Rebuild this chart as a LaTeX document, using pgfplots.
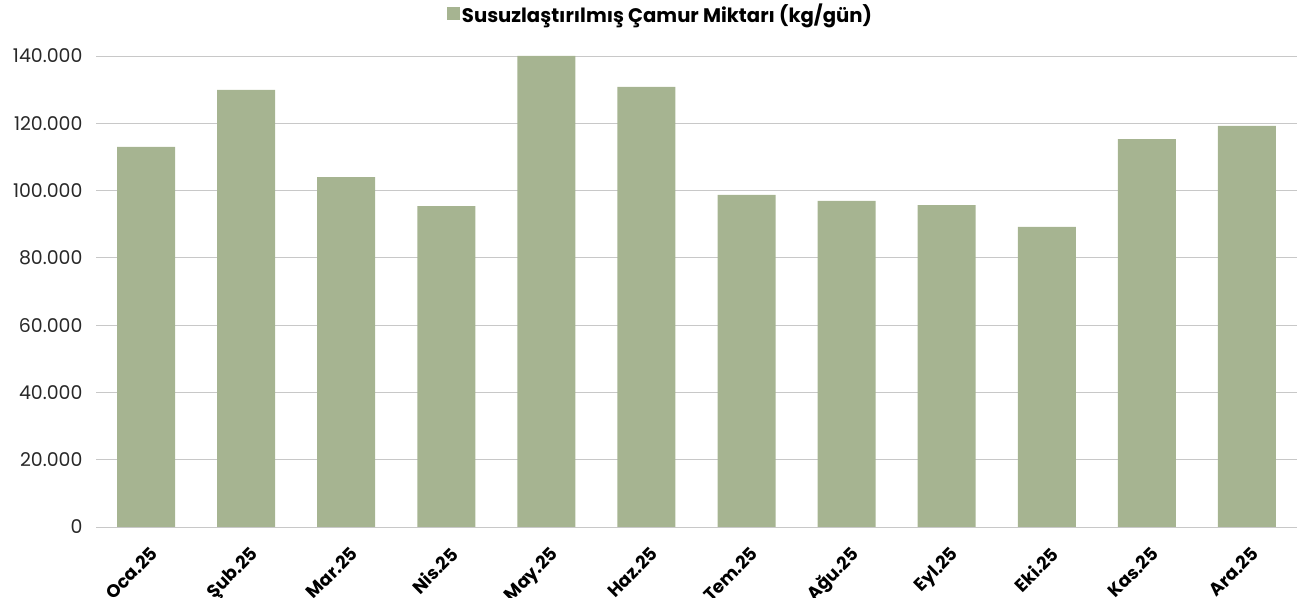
\documentclass[border=0pt]{standalone}
\usepackage{pgfplots}
\pgfplotsset{compat=1.18}
\usepackage{fontspec}
\setmainfont{Poppins}
\definecolor{barc}{RGB}{166,180,145}
\definecolor{gridc}{RGB}{200,200,200}
\definecolor{txt}{RGB}{40,40,40}
\begin{document}
\begin{tikzpicture}[x=1bp,y=1bp]
\useasboundingbox (0,0) rectangle (1303,598);
\begin{axis}[
  at={(96bp,71bp)}, anchor=south west,
  scale only axis, width=1201bp, height=471bp,
  xmin=-0.5, xmax=11.5, ymin=0, ymax=140000,
  ytick={0,20000,40000,60000,80000,100000,120000,140000},
  xtick={0,...,11},
  xticklabels={Oca.25,Şub.25,Mar.25,Nis.25,May.25,Haz.25,Tem.25,Ağu.25,Eyl.25,Eki.25,Kas.25,Ara.25},
  scaled y ticks=false,
  yticklabel style={/pgf/number format/fixed, /pgf/number format/precision=0, /pgf/number format/1000 sep={.}, /pgf/number format/assume math mode=true},
  ymajorgrids, major grid style={draw=gridc, line width=0.9bp},
  axis x line*=bottom, axis y line*=left,
  x axis line style={draw=gridc, line width=0.9bp, -},
  y axis line style={draw=none},
  major tick length=0pt,
  yticklabel style={font=\fontsize{19}{19}\selectfont, text=txt, xshift=-10bp},
  xticklabel style={font=\bfseries\fontsize{18}{18}\selectfont, text=black, anchor=north east, xshift=3bp, yshift=-17bp, rotate=45, inner sep=1bp},
  ybar, bar width=58bp, bar shift=0pt,
  legend style={at={(0.5,1)}, anchor=center, yshift=42bp, xshift=-36bp, draw=none, fill=none, font=\bfseries\fontsize{19.7}{19.7}\selectfont},
  legend image code/.code={\fill[barc] (-8bp,-6.5bp) rectangle (5bp,6.5bp);},
]
\addplot[fill=barc, draw=none] coordinates {
(0,113000) (1,129900) (2,104000) (3,95400) (4,140000) (5,130800)
(6,98700) (7,96900) (8,95700) (9,89200) (10,115300) (11,119200)};
\addlegendentry{Susuzlaştırılmış Çamur Miktarı (kg/gün)}
\end{axis}
\end{tikzpicture}
\end{document}
